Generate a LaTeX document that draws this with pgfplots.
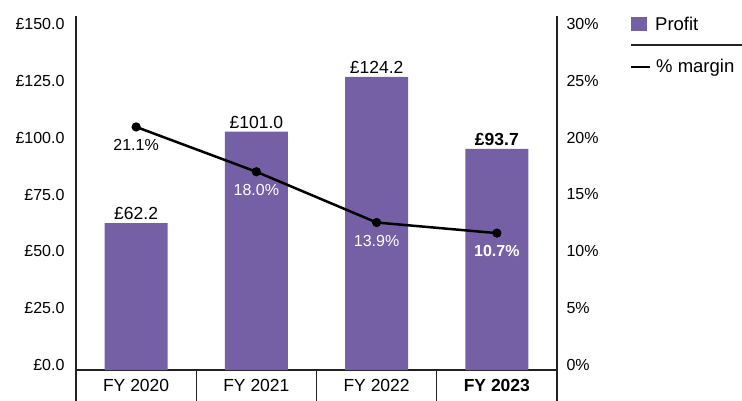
\documentclass[border=0pt]{standalone}
\usepackage{fontspec}
\setmainfont{Liberation Sans}
\usepackage{pgfplots}
\pgfplotsset{compat=1.18}
\usetikzlibrary{calc}
\definecolor{profit}{HTML}{7560A6}
\definecolor{axisline}{HTML}{222222}

\begin{document}
\fontsize{16}{19}\selectfont
\begin{tikzpicture}
% bars: profit, left axis
\begin{axis}[
  name=ax, scale only axis, width=481pt, height=354pt,
  xmin=-0.5, xmax=3.5, ymin=0, ymax=150,
  axis x line*=bottom, axis y line*=left,
  axis line style={line width=1.2pt, axisline, -},
  xtick={0,1,2,3},
  xticklabels={FY 2020, FY 2021, FY 2022, \textbf{FY 2023}},
  xticklabel style={yshift=-8pt, inner ysep=1pt, font=\fontsize{17.5}{20}\selectfont},
  ytick={0,25,50,75,100,125,150},
  yticklabels={£0.0,£25.0,£50.0,£75.0,£100.0,£125.0,£150.0},
  yticklabel style={xshift=-6pt, yshift={(5-\ticknum*2.17)*1pt}},
  major tick length=0pt,
  extra x ticks={-0.5,0.5,1.5,2.5,3.5}, extra x tick labels={},
  extra x tick style={major tick length=40pt, tick align=outside,
    tick style={line width=1.2pt, axisline}},
]
\addplot[ybar, bar width=63pt, fill=profit, draw=none,
  nodes near coords, point meta=explicit symbolic,
  every node near coord/.append style={text=black, inner sep=3pt,
    font=\fontsize{17.5}{20}\selectfont}]
  coordinates {(0,62.2)[£62.2] (1,101.0)[£101.0] (2,124.2)[£124.2] (3,93.7)[\textbf{£93.7}]};
\end{axis}
% line: % margin, right axis
\begin{axis}[
  scale only axis, width=481pt, height=354pt,
  xmin=-0.5, xmax=3.5, ymin=0, ymax=30,
  axis x line=none, axis y line*=right,
  axis line style={line width=1.2pt, axisline, -},
  ytick={0,5,10,15,20,25,30},
  yticklabels={0\%,5\%,10\%,15\%,20\%,25\%,30\%},
  yticklabel style={xshift=4pt, yshift={(5-\ticknum*2.17)*1pt}},
  major tick length=0pt,
]
\addplot[black, line width=2.5pt, mark=*, mark size=3.3pt,
  nodes near coords, point meta=explicit symbolic,
  every node near coord/.append style={anchor=north, yshift=-6pt}]
  coordinates {(0,20.6)[21.1\%] (1,16.8)[\textcolor{white}{18.0\%}]
               (2,12.5)[\textcolor{white}{13.9\%}] (3,11.6)[\textcolor{white}{\textbf{10.7\%}}]};
\end{axis}
% legend
\fill[profit] ($(ax.south west)+(555pt,339pt)$) rectangle +(16pt,14pt);
\node[anchor=west, inner sep=0pt, font=\fontsize{18.5}{21}\selectfont]
  at ($(ax.south west)+(579pt,346pt)$) {Profit};
\draw[line width=1.2pt, axisline] ($(ax.south west)+(555pt,325pt)$) -- +(120pt,0);
\draw[line width=2.5pt, black] ($(ax.south west)+(555pt,303pt)$) -- +(19pt,0);
\node[anchor=west, inner sep=0pt, font=\fontsize{18.5}{21}\selectfont]
  at ($(ax.south west)+(580pt,302pt)$) {\% margin};
\pgfresetboundingbox
\path ($(ax.south west)+(-76pt,-30pt)$) rectangle ($(ax.south west)+(666pt,370pt)$);
\end{tikzpicture}
\end{document}
